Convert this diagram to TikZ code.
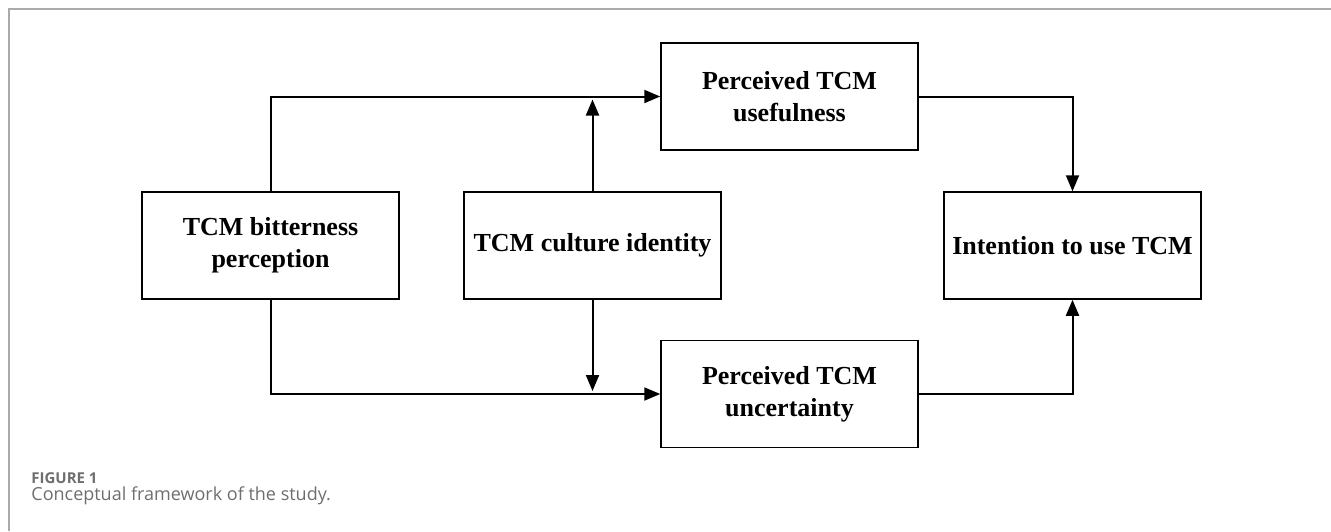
\documentclass[tikz,border=0pt]{standalone}
\usepackage{fontspec}
\setmainfont{Liberation Serif}
\newfontfamily\capfont{Open Sans}
\usetikzlibrary{arrows.meta}

\definecolor{framegray}{HTML}{AAAAAA}
\definecolor{capgray}{HTML}{6E6E6E}

\tikzset{
    box/.style={draw, line width=0.75pt, minimum width=128.5pt, minimum height=53.5pt,
        align=center, font=\fontsize{13}{16}\selectfont\bfseries, inner sep=2pt},
    link/.style={line width=1pt, -{Triangle[length=8pt,width=6.5pt]}},
}

\begin{document}
\begin{tikzpicture}[x=0.5pt, y=-0.5pt]
            \useasboundingbox (0,0) rectangle (1331,531);
            \draw[framegray, line width=1pt] (9,531) -- (9,9) -- (1331,9);

            \node[box] (bitter) at (270.5, 245.5) {TCM bitterness\\perception};
            \node[box] (ident) at (592.5, 245.5) {TCM culture identity};
            \node[box] (useful) at (789.5, 96.5) {Perceived TCM\\usefulness};
            \node[box] (uncert) at (789.5, 394) {Perceived TCM\\uncertainty};
            \node[box] (intent) at (1072.5, 245.5) {Intention to use TCM};

            \draw[link] (bitter.north) |- (useful.west);
            \draw[link] (bitter.south) |- (uncert.west);
            \draw[link, shorten >=1.5pt] (ident.north) -- (ident.north |- useful.west);
            \draw[link, shorten >=1.5pt] (ident.south) -- (ident.south |- uncert.west);
            \draw[link] (useful.east) -| (intent.north);
            \draw[link] (uncert.east) -| (intent.south);

            \node[anchor=west, text=capgray, font=\capfont\fontsize{7.5}{9}\selectfont\bfseries, inner sep=0pt] (fig) at (31, 478) {FIGURE 1};
            \node[anchor=west, text=capgray, font=\capfont\fontsize{9}{11}\selectfont, inner sep=0pt] (caption) at (31, 496) {Conceptual framework of the study.};
        \end{tikzpicture}
\end{document}
